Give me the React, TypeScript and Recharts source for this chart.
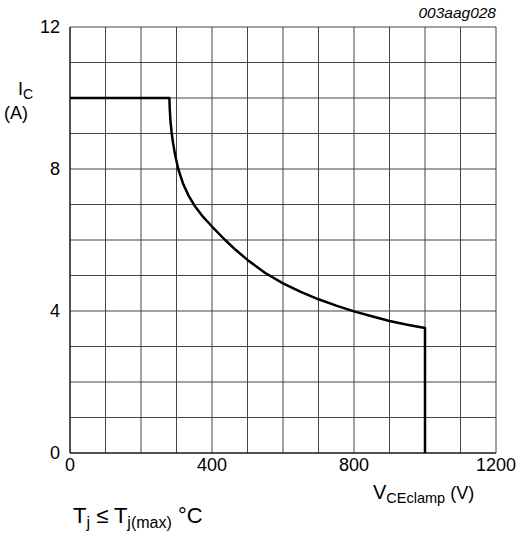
import { LineChart, Line, XAxis, YAxis, CartesianGrid } from 'recharts';

// V_CEclamp (V) vs I_C (A)
const vce = [0, 280, 281, 283, 286, 290, 296, 305, 318, 334, 352, 375, 400, 437, 468, 500, 550, 600, 650, 700, 750, 800, 850, 900, 950, 1000, 1000];
const ic = [10, 10, 9.7, 9.35, 9.05, 8.75, 8.4, 8, 7.6, 7.25, 6.95, 6.65, 6.38, 6, 5.71, 5.44, 5.07, 4.78, 4.54, 4.33, 4.15, 3.99, 3.85, 3.72, 3.61, 3.52, 0];

const xTicks = [0, 100, 200, 300, 400, 500, 600, 700, 800, 900, 1000, 1100, 1200];
const yTicks = [0, 1, 2, 3, 4, 5, 6, 7, 8, 9, 10, 11, 12];
const xLabels = [0, 400, 800, 1200];
const yLabels = [0, 4, 8, 12];

const data = vce.map((v, i) => ({ v, i: ic[i] }));

const font = '"Liberation Sans", Arial, sans-serif';

export default function App() {
  return (
    <div style={{ position: 'absolute', left: 0, top: 0, width: 524, height: 538, background: '#fff', fontFamily: font }}>
      <LineChart width={524} height={538} data={data} margin={{ top: 27, right: 28, bottom: 55, left: 10 }}>
        <CartesianGrid stroke="#444" strokeWidth={1} />
        <XAxis
          dataKey="v"
          type="number"
          domain={[0, 1200]}
          ticks={xTicks}
          interval={0}
          tickSize={0}
          tickMargin={5}
          height={30}
          stroke="#000"
          tick={{ fill: '#000', fontSize: 18, fontFamily: font }}
          tickFormatter={(t: number) => (xLabels.includes(t) ? String(t) : '')}
        />
        <YAxis
          dataKey="i"
          type="number"
          domain={[0, 12]}
          ticks={yTicks}
          interval={0}
          tickSize={0}
          tickMargin={10}
          width={60}
          stroke="#000"
          tick={{ fill: '#000', fontSize: 18, fontFamily: font }}
          tickFormatter={(t: number) => (yLabels.includes(t) ? String(t) : '')}
        />
        <Line
          type="linear"
          dataKey="i"
          stroke="#000"
          strokeWidth={2.5}
          strokeLinejoin="round"
          dot={false}
          isAnimationActive={false}
        />
      </LineChart>
      <svg width={524} height={538} style={{ position: 'absolute', left: 0, top: 0, pointerEvents: 'none' }} fontFamily={font}>
        <text x={496} y={18} textAnchor="end" fontSize={15.5} fontStyle="italic">003aag028</text>
        <text x={18} y={95} fontSize={18}>
          I<tspan fontSize={14} dy={4}>C</tspan>
        </text>
        <text x={4} y={119} fontSize={18}>(A)</text>
        <text x={373} y={499} fontSize={20}>
          V<tspan fontSize={14.5} dy={4}>CEclamp</tspan>
          <tspan fontSize={18} dy={-4}> (V)</tspan>
        </text>
        <text x={73} y={523} fontSize={22}>
          T<tspan fontSize={16} dy={5}>j</tspan>
          <tspan dy={-5}> ≤ T</tspan>
          <tspan fontSize={16} dy={5}>j(max)</tspan>
          <tspan dy={-5}> °C</tspan>
        </text>
      </svg>
    </div>
  );
}
